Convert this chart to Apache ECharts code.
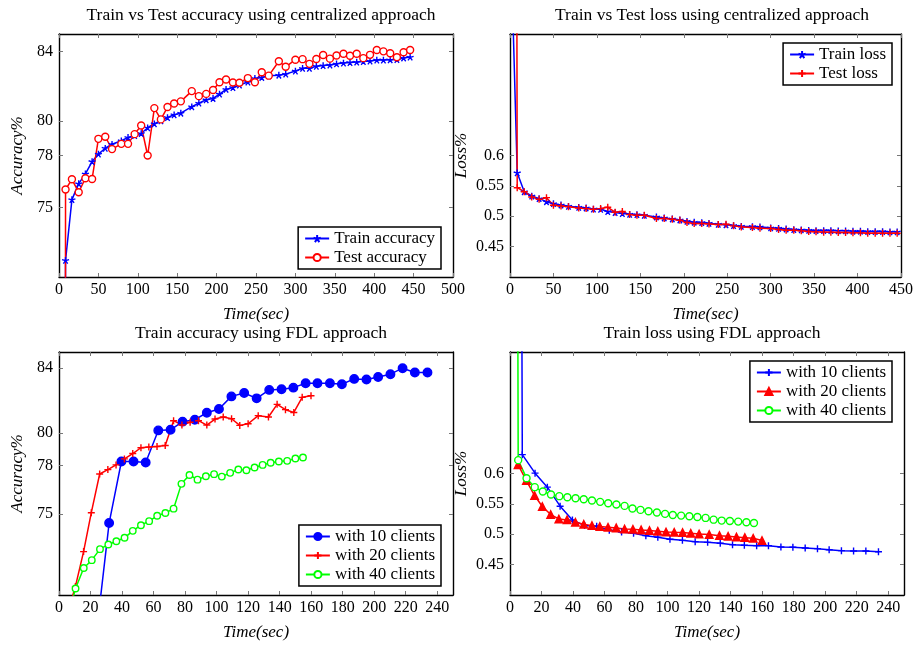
<!DOCTYPE html>
<html><head><meta charset="utf-8">
<script src="https://cdn.jsdelivr.net/npm/echarts@6/dist/echarts.min.js"></script>
<style>html,body{margin:0;padding:0;background:#fff}#c{width:916px;height:646px}</style>
</head><body><div id="c"></div>
<script>
// ---------- Centralized approach (shared time axis) ----------
const centralTime = [8.3, 16.4, 25, 33.5, 42, 50, 58.7, 67.3, 79.1, 87.6,
  96, 104.3, 112.5, 121, 129.3, 137.7, 146.1, 154.6, 168.5, 177.5,
  186.8, 195.5, 203.7, 212, 220.7, 229, 239.7, 248.6, 257.3, 266.2,
  279, 287.7, 300, 309.1, 317.8, 326.6, 335.2, 343.8, 352.2, 361,
  369.3, 377.8, 386.2, 394.7, 403.3, 411.7, 420.3, 428.8, 437.3, 445.6];
const trainAcc = [71.96, 75.46, 76.38, 76.94, 77.65, 78.08, 78.42, 78.65, 78.85, 79.04,
  79.15, 79.27, 79.6, 79.83, 80.0, 80.19, 80.35, 80.44, 80.81, 81.02,
  81.21, 81.29, 81.54, 81.81, 81.92, 82.06, 82.23, 82.44, 82.5, 82.6,
  82.63, 82.69, 82.87, 83.02, 83.02, 83.14, 83.18, 83.21, 83.28, 83.33,
  83.36, 83.38, 83.41, 83.44, 83.5, 83.5, 83.51, 83.53, 83.62, 83.67];
const testAcc = [76.04, 76.63, 75.88, 76.69, 76.65, 78.96, 79.08, 78.37, 78.67, 78.67,
  79.23, 79.73, 78.0, 80.73, 80.08, 80.79, 81.0, 81.12, 81.71, 81.42,
  81.55, 81.77, 82.22, 82.38, 82.21, 82.19, 82.46, 82.22, 82.8, 82.6,
  83.43, 83.11, 83.52, 83.55, 83.28, 83.56, 83.79, 83.58, 83.76, 83.86,
  83.75, 83.86, 83.61, 83.8, 84.08, 84.0, 83.89, 83.66, 83.95, 84.08];
const trainLoss = [0.5716, 0.5404, 0.5333, 0.529, 0.524, 0.5208, 0.5186, 0.5164, 0.5148, 0.5137,
  0.512, 0.5115, 0.5077, 0.506, 0.5044, 0.5033, 0.5027, 0.5016, 0.4989, 0.4973,
  0.4956, 0.494, 0.4918, 0.4902, 0.4896, 0.4885, 0.4869, 0.4858, 0.4847, 0.4836,
  0.4831, 0.4825, 0.4809, 0.4803, 0.4792, 0.4781, 0.4776, 0.477, 0.4765, 0.4765,
  0.4765, 0.476, 0.476, 0.4754, 0.4754, 0.4749, 0.4749, 0.4749, 0.4743, 0.4743];
const testLoss = [0.547, 0.5404, 0.5317, 0.5279, 0.5306, 0.518, 0.5169, 0.5158, 0.5137, 0.5126,
  0.5115, 0.5126, 0.5148, 0.5066, 0.5077, 0.5027, 0.5016, 0.5016, 0.4962, 0.4962,
  0.4951, 0.4934, 0.4896, 0.488, 0.488, 0.4874, 0.4863, 0.4869, 0.4842, 0.4825,
  0.4814, 0.4803, 0.4798, 0.4781, 0.477, 0.477, 0.476, 0.4749, 0.4743, 0.4738,
  0.4738, 0.4732, 0.4732, 0.4727, 0.4727, 0.4721, 0.4721, 0.4721, 0.4721, 0.4721];
// first (off-scale, clipped) points
const trainAccStart = [8.0, 60];
const testAccStart = [8.0, 60];
const trainLossStart = [0, 1.0];
const testLossStart = [7.3, 1.3];

// ---------- FDL approach ----------
const fdl10Time = [7.8, 15.9, 23.7, 31.8, 39.6, 47.3, 55, 63, 70.8, 78.4,
  86.2, 93.8, 101.5, 109.4, 117.5, 125.4, 133.4, 141.2, 148.7, 156.5,
  164, 171.9, 179.5, 187.3, 195.1, 202.5, 210.3, 218, 225.8, 233.8];
const fdl10Acc = [null, null, 67.6, 74.44, 78.24, 78.24, 78.18, 80.16, 80.2, 80.7,
  80.82, 81.25, 81.48, 82.26, 82.47, 82.14, 82.66, 82.7, 82.8, 83.07,
  83.07, 83.07, 83.01, 83.34, 83.3, 83.46, 83.63, 84.0, 83.73, 83.73];
const fdl10Loss = [0.631, 0.6006, 0.5775, 0.5462, 0.5236, 0.5142, 0.5131, 0.5065, 0.5038, 0.5016,
  0.4977, 0.495, 0.4917, 0.49, 0.4878, 0.4867, 0.4851, 0.4829, 0.4818, 0.4812,
  0.4812, 0.479, 0.4785, 0.4774, 0.4763, 0.4746, 0.473, 0.4724, 0.4724, 0.4713];
const fdl10LossStart = [7.1, 1.2];

const fdl20Time = [5.1, 10.4, 15.6, 20.5, 25.8, 31, 36.2, 41.5, 46.8, 52,
  57, 62.2, 67.4, 72.7, 78, 83.2, 88.5, 93.8, 99, 104.2,
  109.5, 114.7, 120, 126.4, 132.9, 138.4, 143.7, 149, 154.3, 159.9];
const fdl20Acc = [68.8, 70.52, 72.68, 75.08, 77.47, 77.74, 78.03, 78.4, 78.73, 79.09,
  79.13, 79.17, 79.23, 80.76, 80.49, 80.66, 80.76, 80.49, 80.86, 80.99,
  80.88, 80.47, 80.57, 81.07, 80.99, 81.77, 81.44, 81.27, 82.2, 82.3];
const fdl20Loss = [0.6144, 0.5884, 0.5637, 0.5456, 0.5324, 0.5252, 0.5236, 0.5197, 0.5164, 0.5142,
  0.5126, 0.5115, 0.5104, 0.5087, 0.5082, 0.5071, 0.506, 0.5049, 0.5038, 0.5032,
  0.5027, 0.5016, 0.5005, 0.4994, 0.4977, 0.4966, 0.4955, 0.4944, 0.4933, 0.4898];

const fdl40Time = [5.2, 10.5, 15.7, 20.8, 26, 31.3, 36.4, 41.6, 46.8, 52,
  57.2, 62.3, 67.5, 72.7, 77.7, 82.8, 87.9, 93.2, 98.4, 103.3,
  108.6, 113.8, 118.9, 124.1, 129.2, 134.3, 139.5, 144.8, 150, 154.8];
const fdl40Acc = [68.5, 70.4, 71.67, 72.15, 72.83, 73.12, 73.32, 73.53, 73.96, 74.31,
  74.56, 74.89, 75.06, 75.33, 76.86, 77.41, 77.12, 77.33, 77.46, 77.31,
  77.54, 77.75, 77.7, 77.87, 78.03, 78.16, 78.24, 78.28, 78.43, 78.49];
const fdl40Loss = [0.622, 0.5923, 0.5775, 0.5703, 0.5654, 0.5627, 0.561, 0.5593, 0.5577, 0.5555,
  0.5533, 0.5511, 0.5489, 0.5467, 0.5423, 0.5401, 0.5379, 0.5357, 0.5335, 0.5318,
  0.5307, 0.5296, 0.5285, 0.5269, 0.524, 0.5225, 0.5219, 0.5208, 0.5197, 0.5186];
const fdl40LossStart = [4.6, 1.2];

// ---------- labels / ticks ----------
const titles = ['Train vs Test accuracy using centralized approach', 'Train vs Test loss using centralized approach',
  'Train accuracy using FDL approach', 'Train loss using FDL approach'];
const accTicks = [75, 78, 80, 84];
const lossTicks = [0.45, 0.5, 0.55, 0.6];
const fdlTimeTicks = [0, 20, 40, 60, 80, 100, 120, 140, 160, 180, 200, 220, 240];
const centralAccTimeTicks = [0, 50, 100, 150, 200, 250, 300, 350, 400, 450, 500];
const centralLossTimeTicks = [0, 50, 100, 150, 200, 250, 300, 350, 400, 450];

const FONT = 'Liberation Serif';
const BLUE = '#0000ff', RED = '#ff0000', GREEN = '#00ff00';
const STAR = 'path://M0,0L0,-10M0,0L9.51,-3.09M0,0L5.88,8.09M0,0L-5.88,8.09M0,0L-9.51,-3.09';
const PLUS = 'path://M0,-10L0,10M-10,0L10,0';
const OCIRC = 'path://M10,0A10,10,0,1,1,-10,0A10,10,0,1,1,10,0Z';

const grids = [
  {left: 59, top: 34, width: 394, height: 243},
  {left: 510, top: 34, width: 394, height: 243},
  {left: 59, top: 352, width: 394, height: 243},
  {left: 510, top: 352, width: 394, height: 243}];
const centers = [256, 707, 256, 707];

function pairs(ts, vs, start) {
  const d = [];
  if (start) d.push(start);
  ts.forEach((t, i) => { if (vs[i] != null) d.push([t, vs[i]]); });
  return d;
}

const xAxes = [], yAxes = [];
function addAxes(gi, xmin, xmax, xticks, ymin, ymax, yticks, yname, yGap) {
  [false, true].forEach(top => {
    xAxes.push({type: 'value', gridIndex: gi, min: xmin, max: xmax, position: top ? 'top' : 'bottom',
      axisLine: {show: true, onZero: false, lineStyle: {color: '#000', width: 1.4}},
      axisTick: {show: true, inside: true, length: 4, customValues: xticks, lineStyle: {color: '#777', width: 1}},
      axisLabel: {show: !top, customValues: xticks, color: '#000', fontFamily: FONT, fontSize: 16, margin: 5},
      splitLine: {show: false},
      name: top ? '' : 'Time(sec)', nameLocation: 'middle', nameGap: 29,
      nameTextStyle: {fontFamily: FONT, fontStyle: 'italic', fontSize: 17, color: '#000'}});
  });
  [false, true].forEach(right => {
    yAxes.push({type: 'value', gridIndex: gi, min: ymin, max: ymax, position: right ? 'right' : 'left',
      axisLine: {show: true, onZero: false, lineStyle: {color: '#000', width: 1.4}},
      axisTick: {show: true, inside: true, length: 4, customValues: yticks, lineStyle: {color: '#777', width: 1}},
      axisLabel: {show: !right, customValues: yticks, color: '#000', fontFamily: FONT, fontSize: 16, margin: 6},
      splitLine: {show: false},
      name: right ? '' : yname, nameLocation: 'middle', nameGap: yGap,
      nameTextStyle: {fontFamily: FONT, fontStyle: 'italic', fontSize: 17, color: '#000'}});
  });
}
addAxes(0, 0, 500, centralAccTimeTicks, 71, 85, accTicks, 'Accuracy%', 33);
addAxes(1, 0, 450, centralLossTimeTicks, 0.4, 0.8, lossTicks, 'Loss%', 40);
addAxes(2, 0, 250, fdlTimeTicks, 70, 85, accTicks, 'Accuracy%', 33);
addAxes(3, 0, 250, fdlTimeTicks, 0.4, 0.8, lossTicks, 'Loss%', 40);

function line(name, gi, data, color, symbol, size) {
  const hollow = symbol === OCIRC;
  return {type: 'line', name, xAxisIndex: 2 * gi, yAxisIndex: 2 * gi, data, symbol, symbolSize: size,
    symbolKeepAspect: true, showAllSymbol: true, clip: true, animation: false,
    lineStyle: {color, width: 1.5},
    itemStyle: {color: hollow ? '#fff' : color, borderColor: color, borderWidth: 1.4},
    emphasis: {disabled: true}};
}

const series = [
  line('Train accuracy', 0, pairs(centralTime, trainAcc, trainAccStart), BLUE, STAR, 7),
  line('Test accuracy', 0, pairs(centralTime, testAcc, testAccStart), RED, OCIRC, 7),
  line('Train loss', 1, pairs(centralTime, trainLoss, trainLossStart), BLUE, STAR, 7),
  line('Test loss', 1, pairs(centralTime, testLoss, testLossStart), RED, PLUS, 7),
  line('A|with 10 clients', 2, pairs(fdl10Time, fdl10Acc), BLUE, 'circle', 8.5),
  line('A|with 20 clients', 2, pairs(fdl20Time, fdl20Acc), RED, PLUS, 7),
  line('A|with 40 clients', 2, pairs(fdl40Time, fdl40Acc), GREEN, OCIRC, 6.5),
  line('L|with 10 clients', 3, pairs(fdl10Time, fdl10Loss, fdl10LossStart), BLUE, PLUS, 7),
  line('L|with 20 clients', 3, pairs(fdl20Time, fdl20Loss), RED, 'triangle', 7.5),
  line('L|with 40 clients', 3, pairs(fdl40Time, fdl40Loss, fdl40LossStart), GREEN, OCIRC, 7)
];

const legBase = {orient: 'vertical', backgroundColor: '#fff', borderColor: '#000', borderWidth: 1.5, borderRadius: 0,
  padding: [3, 6, 3, 6], itemGap: 2, itemWidth: 24, itemHeight: 9, align: 'left', selectedMode: false,
  textStyle: {fontFamily: FONT, fontSize: 17, color: '#000'},
  formatter: n => n.indexOf('|') >= 0 ? n.split('|')[1] : n};

const option = {
  backgroundColor: '#fff',
  animation: false,
  title: titles.map((t, i) => ({text: t, left: centers[i], textAlign: 'center', top: i < 2 ? 1 : 319,
    textStyle: {fontFamily: FONT, fontWeight: 'normal', fontSize: 17.5, color: '#000'}})),
  grid: grids,
  xAxis: xAxes,
  yAxis: yAxes,
  legend: [
    Object.assign({}, legBase, {data: ['Train accuracy', 'Test accuracy'], right: 475, top: 227}),
    Object.assign({}, legBase, {data: ['Train loss', 'Test loss'], right: 24, top: 43}),
    Object.assign({}, legBase, {data: ['A|with 10 clients', 'A|with 20 clients', 'A|with 40 clients'], right: 475, top: 525}),
    Object.assign({}, legBase, {data: ['L|with 10 clients', 'L|with 20 clients', 'L|with 40 clients'], right: 24, top: 361})
  ],
  series
};
const chart = echarts.init(document.getElementById('c'), null, {renderer: 'canvas'});
chart.setOption(option);
</script></body></html>
